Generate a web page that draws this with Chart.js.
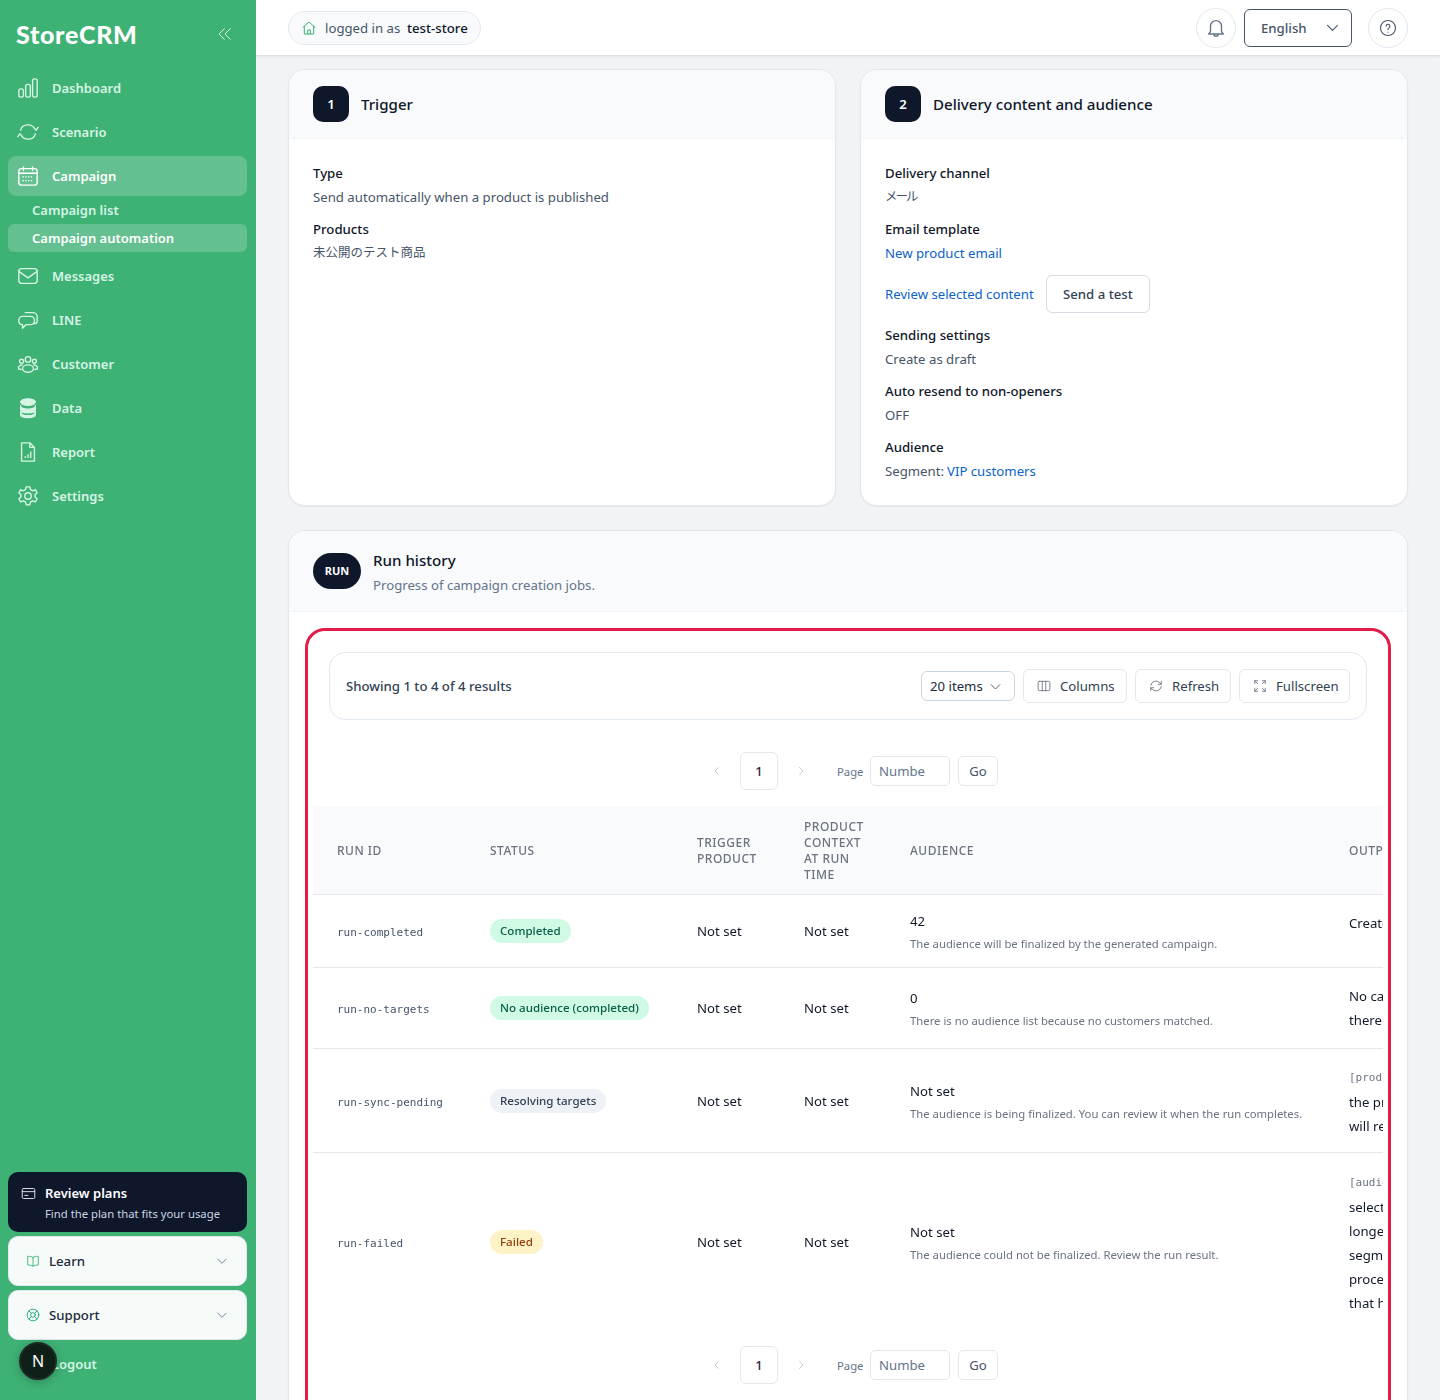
<!DOCTYPE html>
<html>
<head>
<meta charset="utf-8">
<title>Run history</title>
<script src="https://cdn.jsdelivr.net/npm/chart.js@4"></script>
<style>
html,body{margin:0;padding:0;width:1440px;height:1400px;overflow:hidden;background:#f1f3f5;font-family:"Noto Sans","Noto Sans CJK JP",sans-serif;color:#0f172a}
#page{position:relative;width:1440px;height:1400px;overflow:hidden}
.box{position:absolute;box-sizing:border-box}
.t{position:absolute;white-space:nowrap;line-height:20px;font-size:13.2px}
svg{position:absolute;fill:none;stroke:currentColor;stroke-width:1.5;stroke-linecap:round;stroke-linejoin:round}
.nav{font-weight:600;color:#d6f5e5;font-size:13px}
.on{color:#fff}
.lab{font-weight:500;color:#0f172a}
.val{color:#475569}
.link{color:#0b63c9}
.btnt{color:#334155}
.th{font-size:12px;font-weight:500;color:#6b7280;letter-spacing:.5px;line-height:16px}
.note{font-size:11.3px;color:#6b7280}
.mono{font-family:"DejaVu Sans Mono",monospace;font-size:11px;color:#475569}
.pill{font-size:11.6px;font-weight:500;border-radius:12px;height:24px;line-height:24px;padding:0 10px;box-sizing:border-box}
</style>
</head>
<body>
<div id="page"></div>
<script>
// table content
var runIds = ['run-completed', 'run-no-targets', 'run-sync-pending', 'run-failed'];
var statuses = ['Completed', 'No audience (completed)', 'Resolving targets', 'Failed'];
var triggerProducts = ['Not set', 'Not set', 'Not set', 'Not set'];
var productContexts = ['Not set', 'Not set', 'Not set', 'Not set'];
var audienceValues = ['42', '0', 'Not set', 'Not set'];
var audienceNotes = [
	'The audience will be finalized by the generated campaign.',
	'There is no audience list because no customers matched.',
	'The audience is being finalized. You can review it when the run completes.',
	'The audience could not be finalized. Review the run result.'
];
var outputLines = [
	['Created'],
	['No campaign', 'there'],
	['[product]', 'the product', 'will result'],
	['[audience]', 'selected', 'longer', 'segment', 'process', 'that has']
];
var columnHeaders = [['RUN ID'], ['STATUS'], ['TRIGGER', 'PRODUCT'], ['PRODUCT', 'CONTEXT', 'AT RUN', 'TIME'], ['AUDIENCE'], ['OUTPUT']];
var navItems = ['Dashboard', 'Scenario', 'Campaign', 'Messages', 'LINE', 'Customer', 'Data', 'Report', 'Settings'];

// layout of the table on the page
var colX = [337, 490, 697, 804, 910, 1349];
var rowEdges = [806, 894, 967, 1048, 1153, 1327];
var rowMid = [932, 1009, 1102, 1243];
var outputTop = [923, 996, 1078, 1183];
var pillStyle = {
	'Completed': ['#d1fae5', '#065f46'],
	'No audience (completed)': ['#d1fae5', '#065f46'],
	'Resolving targets': ['#eef1f5', '#334155'],
	'Failed': ['#fef3c7', '#92400e']
};

var page = document.getElementById('page');

function box(x, y, w, h, css, parent) {
	var d = document.createElement('div');
	d.className = 'box';
	d.style.cssText = 'left:' + x + 'px;top:' + y + 'px;width:' + w + 'px;height:' + h + 'px;' + (css || '');
	(parent || page).appendChild(d);
	return d;
}
// x = left edge, cy = vertical centre of the line
function txt(x, cy, s, cls, css, parent) {
	var d = document.createElement('div');
	d.className = 't ' + (cls || '');
	d.style.cssText = 'left:' + x + 'px;top:' + (cy - 10) + 'px;' + (css || '');
	d.textContent = s;
	(parent || page).appendChild(d);
	return d;
}
function icon(x, y, size, color, inner, vb) {
	var wrap = document.createElement('div');
	wrap.innerHTML = '<svg viewBox="0 0 ' + (vb || 24) + ' ' + (vb || 24) + '" width="' + size + '" height="' + size + '" style="left:' + x + 'px;top:' + y + 'px;color:' + color + '">' + inner + '</svg>';
	page.appendChild(wrap.firstChild);
}
var chevronDown = '<path d="M5 9l7 7 7-7"/>';

// ---------- main cards ----------
box(0, 0, 1440, 55, 'background:#fff;box-shadow:0 1px 3px rgba(15,23,42,.12)');
box(288, 11, 193, 34, 'background:#f8fafc;border:1px solid #e2e8f0;border-radius:17px');
icon(301, 20, 16, '#3eb175', '<path d="M3 11l9-8 9 8M5 9.5V21h14V9.5M10 21v-6h4v6"/>');
txt(325, 28, 'logged in as', 'val');
txt(407, 28, 'test-store', '', 'font-weight:500');
box(1196, 8, 40, 40, 'background:#fff;border:1px solid #e2e8f0;border-radius:50%');
icon(1205, 17, 22, '#64748b', '<path d="M6 16V10a6 6 0 0112 0v6l2 2.5H4zM9.5 18.5a2.5 2.5 0 005 0"/>');
box(1244, 9, 108, 38, 'background:#fff;border:1px solid #475569;border-radius:6px');
txt(1261, 28, 'English', '', 'font-weight:500;color:#475569');
icon(1324, 19, 17, '#475569', chevronDown);
box(1368, 8, 40, 40, 'background:#fff;border:1px solid #e2e8f0;border-radius:50%');
icon(1379, 19, 18, '#475569', '<circle cx="12" cy="12" r="10"/><path d="M9.5 9.5a2.5 2.5 0 114 2c-1 .7-1.5 1.2-1.5 2.5M12 17.5v.2"/>');

function card(x, y, w, h, headH) {
	box(x - 1, y - 1, w + 2, h + 2, 'background:#fff;border:1px solid #e2e8f0;border-radius:17px;box-shadow:0 1px 2px rgba(15,23,42,.05)');
	box(x, y, w, headH + 1, 'background:#f8fafc;border-bottom:1px solid #f1f5f9;border-radius:16px 16px 0 0');
}
function step(x, n, title) {
	box(x, 86, 36, 36, 'background:#0f172a;border-radius:10px');
	txt(x, 104, n, '', 'width:36px;text-align:center;color:#fff;font-weight:600');
	txt(x + 48, 104, title, '', 'font-size:15.1px;font-weight:500');
}
card(289, 70, 546, 435, 68);
step(313, '1', 'Trigger');
txt(313, 173, 'Type', 'lab');
txt(313, 197, 'Send automatically when a product is published', 'val');
txt(313, 229, 'Products', 'lab');
txt(313, 253, '未公開のテスト商品', 'val', 'font-size:12.5px');

card(861, 70, 546, 435, 68);
step(885, '2', 'Delivery content and audience');
txt(885, 173, 'Delivery channel', 'lab');
txt(885, 197, 'メール', 'val', 'font-size:12.5px;letter-spacing:-2px');
txt(885, 229, 'Email template', 'lab');
txt(885, 253, 'New product email', 'link');
txt(885, 294, 'Review selected content', 'link');
box(1046, 275, 104, 38, 'background:#fff;border:1px solid #d7dce4;border-radius:6px');
txt(1063, 294, 'Send a test', '', 'font-weight:500;color:#334155');
txt(885, 335, 'Sending settings', 'lab');
txt(885, 359, 'Create as draft', 'val');
txt(885, 391, 'Auto resend to non-openers', 'lab');
txt(885, 415, 'OFF', 'val');
txt(885, 447, 'Audience', 'lab');
txt(885, 471, 'Segment:', 'val');
txt(947, 471, 'VIP customers', 'link');

card(289, 531, 1118, 900, 80);
box(313, 553, 48, 36, 'background:#0f172a;border-radius:18px');
txt(313, 571, 'RUN', '', 'width:48px;text-align:center;color:#fff;font-size:11px;font-weight:700');
txt(373, 560, 'Run history', '', 'font-size:15.1px;font-weight:500');
txt(373, 585, 'Progress of campaign creation jobs.', '', 'color:#64748b');

// ---------- toolbar ----------
box(329, 652, 1038, 68, 'background:#fff;border:1px solid #e2e8f0;border-radius:16px');
txt(346, 686, 'Showing 1 to 4 of 4 results', '', 'font-weight:500;color:#334155');
box(921, 671, 94, 30, 'background:#fff;border:1px solid #cbd5e1;border-radius:6px');
txt(930, 686, '20 items', '', 'color:#1e293b');
icon(988, 679, 15, '#475569', chevronDown);
box(1023, 669, 104, 34, 'background:#fff;border:1px solid #e5e7eb;border-radius:6px');
icon(1037, 679, 14, '#6b7280', '<rect x="2" y="4" width="20" height="16" rx="2"/><path d="M9 4v16M15 4v16"/>');
txt(1060, 686, 'Columns', 'btnt');
box(1135, 669, 96, 34, 'background:#fff;border:1px solid #e5e7eb;border-radius:6px');
icon(1149, 679, 14, '#6b7280', '<path d="M3 11a9 9 0 0115-5l3 3M21 13a9 9 0 01-15 5l-3-3M21 4v5h-5M3 20v-5h5"/>');
txt(1172, 686, 'Refresh', 'btnt');
box(1239, 669, 111, 34, 'background:#fff;border:1px solid #e5e7eb;border-radius:6px');
icon(1253, 679, 14, '#6b7280', '<path d="M3 8V3h5M16 3h5v5M21 16v5h-5M8 21H3v-5M3 3l5 5M21 3l-5 5M21 21l-5-5M3 21l5-5"/>');
txt(1276, 686, 'Fullscreen', 'btnt');

function pager(cy) {
	icon(711, cy - 6, 12, '#b6bcc6', '<path d="M15 5l-7 7 7 7"/>');
	box(740, cy - 19, 38, 38, 'background:#fff;border:1px solid #e5e7eb;border-radius:6px');
	txt(740, cy, '1', '', 'width:38px;text-align:center;font-weight:500;font-size:13px;color:#1e293b');
	icon(795, cy - 6, 12, '#b6bcc6', '<path d="M9 5l7 7-7 7"/>');
	txt(837, cy + 1, 'Page', '', 'font-size:11.3px;color:#64748b');
	box(870, cy - 15, 80, 30, 'background:#fff;border:1px solid #e2e5ea;border-radius:5px');
	txt(879, cy, 'Numbe', '', 'color:#64748b');
	box(958, cy - 15, 40, 30, 'background:#fff;border:1px solid #e5e7eb;border-radius:5px');
	txt(958, cy, 'Go', '', 'width:40px;text-align:center;color:#475569');
}
pager(771);
pager(1365);

// ---------- run table ----------
var clip = box(313, 806, 1070, 521, 'overflow:hidden');
box(0, 0, 1070, 88, 'background:#f9fafb', clip);
var cv = document.createElement('canvas');
cv.width = 1070;
cv.height = 521;
cv.style.cssText = 'position:absolute;left:0;top:0;width:1070px;height:521px';
clip.appendChild(cv);

// row rules come from a chart y axis whose ticks are the row edges
new Chart(cv.getContext('2d'), {
	type: 'scatter',
	data: { datasets: [{ data: [] }] },
	options: {
		responsive: false,
		animation: false,
		layout: { padding: 0 },
		plugins: { legend: { display: false }, tooltip: { enabled: false } },
		scales: {
			x: { display: false, min: 0, max: 1 },
			y: {
				reverse: true,
				min: rowEdges[0],
				max: rowEdges[rowEdges.length - 1],
				border: { display: false },
				afterBuildTicks: function(axis) {
					axis.ticks = rowEdges.slice(1, -1).map(function(v) { return { value: v }; });
				},
				ticks: { display: false },
				grid: { color: '#e5e7eb', lineWidth: 1, drawTicks: false }
			}
		}
	}
});

function inClip(x, cy, s, cls, css) {
	return txt(x - 313, cy - 806, s, cls, css, clip);
}
columnHeaders.forEach(function(lines, c) {
	var top = 853 - (lines.length - 1) * 8;
	lines.forEach(function(l, i) {
		inClip(colX[c], top + i * 16, l, 'th');
	});
});
runIds.forEach(function(id, r) {
	var mid = rowMid[r];
	inClip(colX[0], mid + 1, id, 'mono');
	var p = pillStyle[statuses[r]];
	inClip(colX[1], mid - 3, statuses[r], 'pill', 'background:' + p[0] + ';color:' + p[1]);
	inClip(colX[2], mid - 1, triggerProducts[r], '', 'color:#111827');
	inClip(colX[3], mid - 1, productContexts[r], '', 'color:#111827');
	inClip(colX[4], mid - 11, audienceValues[r], '', 'color:#111827');
	inClip(colX[4], mid + 12, audienceNotes[r], 'note');
	outputLines[r].forEach(function(l, i) {
		var code = l.charAt(0) === '[';
		inClip(colX[5], outputTop[r] + i * 24, l, code ? 'mono' : '', code ? 'color:#6b7280' : 'color:#111827');
	});
});

// red frame sits over the table
box(305, 628, 1086, 800, 'border:3px solid #e11d48;border-radius:20px');

// ---------- sidebar ----------
box(0, 0, 256, 1400, 'background:#3eb175');
txt(16, 30, 'StoreCRM', '', 'font-family:Lato,sans-serif;font-size:25px;font-weight:900;color:#fff;letter-spacing:.7px;line-height:28px');
icon(217, 26, 16, '#d6f5e5', '<path d="M11 4l-8 8 8 8M20 4l-8 8 8 8"/>');
box(8, 156, 239, 40, 'background:rgba(255,255,255,.2);border-radius:8px');
box(8, 224, 239, 28, 'background:rgba(255,255,255,.2);border-radius:6px');
var navY = [88, 132, 176, 276, 320, 364, 408, 452, 496];
var navIcons = [
	'<rect x="2" y="13" width="5" height="9" rx="2"/><rect x="9.5" y="8" width="5" height="14" rx="2"/><rect x="17" y="2" width="5" height="20" rx="2"/>',
	'<path d="M4 10a8 7 0 0115-2l2 2 2-3M20 14a8 7 0 01-15 2l-2-2-2 3"/>',
	'<rect x="2" y="4" width="20" height="18" rx="3"/><path d="M2 9h20M7 2v4M17 2v4"/><path d="M6 13h12M6 17h12" stroke-dasharray="1.500 1.500" stroke-linecap="butt"/>',
	'<rect x="2" y="4" width="20" height="16" rx="3"/><path d="M2 7l10 7 10-7"/>',
	'<path d="M9 4h8a5 4 0 015 4v5a3 3 0 01-3 3M15 8H6a4 4 0 00-4 4v2a4 4 0 004 3v4l4-4h5a4 4 0 004-4v-1a4 4 0 00-4-4z"/>',
	'<circle cx="12" cy="7" r="3"/><circle cx="5" cy="9" r="2.2"/><circle cx="19" cy="9" r="2.2"/><ellipse cx="12" cy="17" rx="6" ry="4"/><path d="M6 13c-3 0-4.500 2-4.500 3s1.500 2 3 2M18 13c3 0 4.500 2 4.500 3s-1.500 2-3 2"/>',
	'<ellipse cx="12" cy="5.500" rx="8" ry="3.500" fill="currentColor"/><path d="M4 9.500c0 5 16 5 16 0v4c0 5-16 5-16 0zM4 16c0 6 16 6 16 0v3c0 4.500-16 4.500-16 0z" fill="currentColor"/>',
	'<path d="M5 2h9l5 5v15H5zM14 2v5h5M9 18v-1M12 18v-3M15 18v-6"/>',
	'<circle cx="12" cy="12" r="3.500"/><path d="M10 2h4l.7 3 2.500 1.300 2.800-1.300 2 3.500-2.300 2v2.500l2.300 2-2 3.500-2.800-1.300-2.500 1.300-.7 3h-4l-.7-3-2.500-1.300-2.800 1.300-2-3.500 2.300-2V10.500l-2.300-2 2-3.500 2.800 1.300L9.300 5z"/>'
];
navItems.forEach(function(name, i) {
	var on = name === 'Campaign';
	icon(17, navY[i] - 11, 22, on ? '#fff' : '#d6f5e5', navIcons[i]);
	txt(52, navY[i], name, 'nav' + (on ? ' on' : ''));
});
txt(32, 210, 'Campaign list', 'nav');
txt(32, 238, 'Campaign automation', 'nav on');

box(8, 1172, 239, 60, 'background:#0f172a;border-radius:10px');
icon(21, 1186, 15, '#e2e8f0', '<rect x="2" y="4" width="20" height="16" rx="2"/><path d="M2 9h20M6 15h5"/>');
txt(45, 1193, 'Review plans', '', 'font-size:13px;font-weight:600;color:#fff');
txt(45, 1214, 'Find the plan that fits your usage', '', 'font-size:11.3px;color:#cbd5e1');
box(8, 1236, 239, 50, 'background:#f6fbfa;border:1px solid #e2e8f0;border-radius:10px');
icon(26, 1254, 14, '#3eb175', '<path d="M12 6c-2-2-5-2-9-2v15c4 0 7 0 9 2 2-2 5-2 9-2V4c-4 0-7 0-9 2zM12 6v15"/>');
txt(49, 1261, 'Learn', '', 'font-weight:500;color:#1e293b');
icon(215, 1254, 14, '#64748b', chevronDown);
box(8, 1290, 239, 50, 'background:#f6fbfa;border:1px solid #e2e8f0;border-radius:10px');
icon(26, 1308, 14, '#16a37b', '<circle cx="12" cy="12" r="10"/><circle cx="12" cy="12" r="4"/><path d="M5 5l4 4M19 5l-4 4M5 19l4-4M19 19l-4-4"/>');
txt(49, 1315, 'Support', '', 'font-weight:500;color:#1e293b');
icon(215, 1308, 14, '#64748b', chevronDown);
txt(52, 1364, 'Logout', 'nav');
box(19, 1342, 38, 38, 'background:#0d1f17;border:2px solid #1f2a25;border-radius:50%;box-shadow:0 2px 8px rgba(0,0,0,.25)');
txt(19, 1361, 'N', '', 'width:38px;text-align:center;color:#fff;font-size:16px');
</script>
</body>
</html>
